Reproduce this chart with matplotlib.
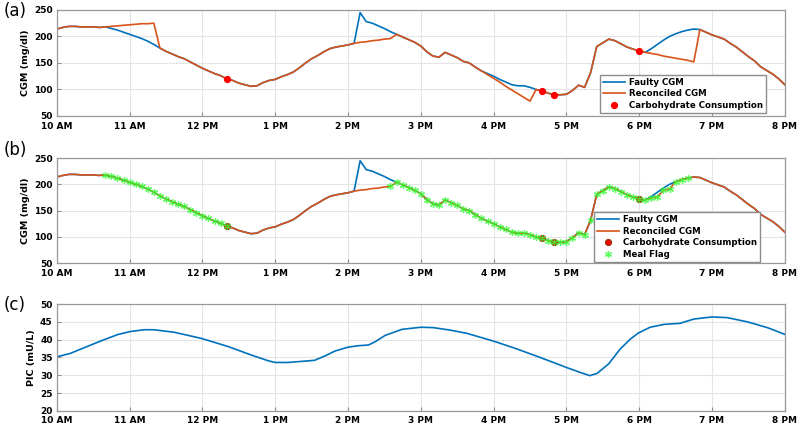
import numpy as np
import matplotlib.pyplot as plt

# hour ticks 10 AM .. 8 PM
hour_ticks = np.arange(10, 21)
hour_labels = ['10 AM', '11 AM', '12 PM', '1 PM', '2 PM', '3 PM',
               '4 PM', '5 PM', '6 PM', '7 PM', '8 PM']

# CGM sampled every 5 min from 10:00 to 20:00
cgm_time = 10 + np.arange(121) / 12.0

faulty_cgm = [
    214, 217, 219, 219, 218, 218, 218, 217, 218, 215, 212, 208,
    204, 200, 196, 191, 185, 178, 172, 167, 162, 158, 152, 146,
    140, 135, 130, 126, 120, 117, 112, 109, 106, 107, 113, 117,
    119, 124, 128, 133, 141, 150, 158, 164, 171, 177, 180, 182,
    184, 187, 245, 228, 225, 220, 215, 209, 204, 199, 194, 189,
    182, 171, 163, 161, 170, 165, 160, 153, 150, 142, 135, 130,
    125, 119, 114, 109, 107, 107, 104, 100, 97, 93, 90, 90,
    91, 98, 108, 104, 132, 181, 188, 195, 192, 186, 180, 176,
    173, 170, 177, 185, 193, 200, 205, 209, 212, 214, 213, 208,
    203, 199, 195, 187, 180, 171, 162, 154, 143, 136, 129, 120,
    109]

reconciled_a = [
    214, 217, 219, 219, 218, 218, 218, 217, 218, 219, 220, 221,
    222, 223, 224, 224, 225, 178, 172, 167, 162, 158, 152, 146,
    140, 135, 130, 126, 120, 117, 112, 109, 106, 107, 113, 117,
    119, 124, 128, 133, 141, 150, 158, 164, 171, 177, 180, 182,
    184, 187, 189, 190, 192, 193, 195, 196, 204, 199, 194, 189,
    182, 171, 163, 161, 170, 165, 160, 153, 150, 142, 135, 128,
    121, 114, 106, 99, 92, 85, 78, 100, 97, 93, 90, 90,
    91, 98, 108, 104, 132, 181, 188, 195, 192, 186, 180, 176,
    173, 170, 168, 166, 163, 161, 159, 157, 155, 152, 213, 208,
    203, 199, 195, 187, 180, 171, 162, 154, 143, 136, 129, 120,
    109]

reconciled_b = [
    214, 217, 219, 219, 218, 218, 218, 217, 218, 215, 212, 208,
    204, 200, 196, 191, 185, 178, 172, 167, 162, 158, 152, 146,
    140, 135, 130, 126, 120, 117, 112, 109, 106, 107, 113, 117,
    119, 124, 128, 133, 141, 150, 158, 164, 171, 177, 180, 182,
    184, 187, 189, 190, 192, 193, 195, 196, 204, 199, 194, 189,
    182, 171, 163, 161, 170, 165, 160, 153, 150, 142, 135, 130,
    125, 119, 114, 109, 107, 107, 104, 100, 97, 93, 90, 90,
    91, 98, 108, 104, 132, 181, 188, 195, 192, 186, 180, 176,
    173, 170, 174, 176, 189, 191, 205, 209, 212, 214, 213, 208,
    203, 199, 195, 187, 180, 171, 162, 154, 143, 136, 129, 120,
    109]

carb_time = [12.333, 16.667, 16.833, 18.0]
carb_cgm = [120, 97, 90, 173]

# periods flagged as meal (hours)
meal_windows = [(10.66, 12.34), (14.58, 18.67)]

pic_time = [10.0, 10.18, 10.37, 10.6, 10.83, 11.01, 11.2, 11.33, 11.61,
            11.98, 12.35, 12.67, 12.9, 13.0, 13.17, 13.36, 13.54, 13.68,
            13.82, 14.0, 14.14, 14.28, 14.37, 14.51, 14.74, 15.0, 15.17,
            15.4, 15.63, 16.0, 16.32, 16.64, 17.0, 17.19, 17.32, 17.42,
            17.58, 17.74, 17.88, 17.99, 18.15, 18.34, 18.56, 18.75, 19.0,
            19.21, 19.49, 19.76, 20.0]
pic_value = [35.2, 36.1, 37.7, 39.6, 41.4, 42.3, 42.8, 42.8, 42.1,
             40.4, 38.1, 35.7, 34.1, 33.6, 33.6, 33.9, 34.2, 35.4,
             36.8, 37.9, 38.3, 38.5, 39.4, 41.2, 42.9, 43.5, 43.4,
             42.7, 41.8, 39.6, 37.4, 35.0, 32.2, 30.8, 29.9, 30.5,
             33.2, 37.4, 40.2, 41.9, 43.5, 44.3, 44.6, 45.8, 46.4,
             46.2, 45.0, 43.4, 41.5]

BLUE = '#0072BD'
ORANGE = '#D95319'
ASTERISK = (6, 2, 0)


def style_axes(ax, ylim, yticks, ylabel):
    ax.set_xlim(10, 20)
    ax.set_ylim(*ylim)
    ax.set_xticks(hour_ticks)
    ax.set_xticklabels(hour_labels, fontweight='bold', fontsize=6.5)
    ax.set_yticks(yticks)
    ax.set_yticklabels([str(v) for v in yticks], fontweight='bold', fontsize=6.5)
    ax.grid(True, color='#e4e4e4', linewidth=0.8)
    ax.set_axisbelow(True)
    ax.tick_params(direction='in', length=3, color='#8c8c8c')
    ax.tick_params(axis='x', pad=4)
    ax.tick_params(axis='y', pad=3)
    for s in ax.spines.values():
        s.set_color('#9a9a9a')
        s.set_linewidth(0.9)
    ax.set_ylabel(ylabel, fontweight='bold', fontsize=6.8, labelpad=3)


def add_legend(ax, anchor):
    ax.legend(loc='lower left', bbox_to_anchor=anchor, borderaxespad=0,
              prop={'weight': 'bold', 'size': 6.2}, fancybox=False,
              edgecolor='#8c8c8c', framealpha=1, handlelength=2.6,
              handletextpad=0.4, labelspacing=0.3, borderpad=0.35)


fig = plt.figure(figsize=(8, 4.32), dpi=100)
ax1 = fig.add_axes([0.071, 0.7315, 0.910, 0.2455])
ax2 = fig.add_axes([0.071, 0.391, 0.910, 0.243])
ax3 = fig.add_axes([0.071, 0.049, 0.910, 0.247])

# (a)
ax1.plot(cgm_time, faulty_cgm, color=BLUE, lw=1.2, label='Faulty CGM')
ax1.plot(cgm_time, reconciled_a, color=ORANGE, lw=1.2, label='Reconciled CGM')
ax1.plot(carb_time, carb_cgm, 'o', color='red', ms=4.2, ls='none',
         label='Carbohydrate Consumption')
style_axes(ax1, (50, 250), [50, 100, 150, 200, 250], 'CGM (mg/dl)')
add_legend(ax1, (0.746, 0.03))

# (b)
t = np.asarray(cgm_time)
rb = np.asarray(reconciled_b, dtype=float)
flag = np.zeros(len(t), dtype=bool)
for lo, hi in meal_windows:
    flag |= (t >= lo) & (t <= hi)
ax2.plot(cgm_time, faulty_cgm, color=BLUE, lw=1.2, label='Faulty CGM')
ax2.plot(cgm_time, reconciled_b, color=ORANGE, lw=1.2, label='Reconciled CGM')
ax2.plot(carb_time, carb_cgm, 'o', color='red', ms=4.2, mec='#a03010',
         ls='none', label='Carbohydrate Consumption')
ax2.plot(t[flag], rb[flag], ls='none', marker=ASTERISK, ms=5, mew=0.9,
         color='#33ff33', alpha=0.8, label='Meal Flag')
style_axes(ax2, (50, 250), [50, 100, 150, 200, 250], 'CGM (mg/dl)')
add_legend(ax2, (0.738, 0.01))

# (c)
ax3.plot(pic_time, pic_value, color=BLUE, lw=1.2)
style_axes(ax3, (20, 50), [20, 25, 30, 35, 40, 45, 50], 'PIC (mU/L)')

fig.text(0.004, 0.975, '(a)', fontsize=12, va='center')
fig.text(0.004, 0.653, '(b)', fontsize=12, va='center')
fig.text(0.004, 0.294, '(c)', fontsize=12, va='center')

fig.savefig('out.png', dpi=100)
